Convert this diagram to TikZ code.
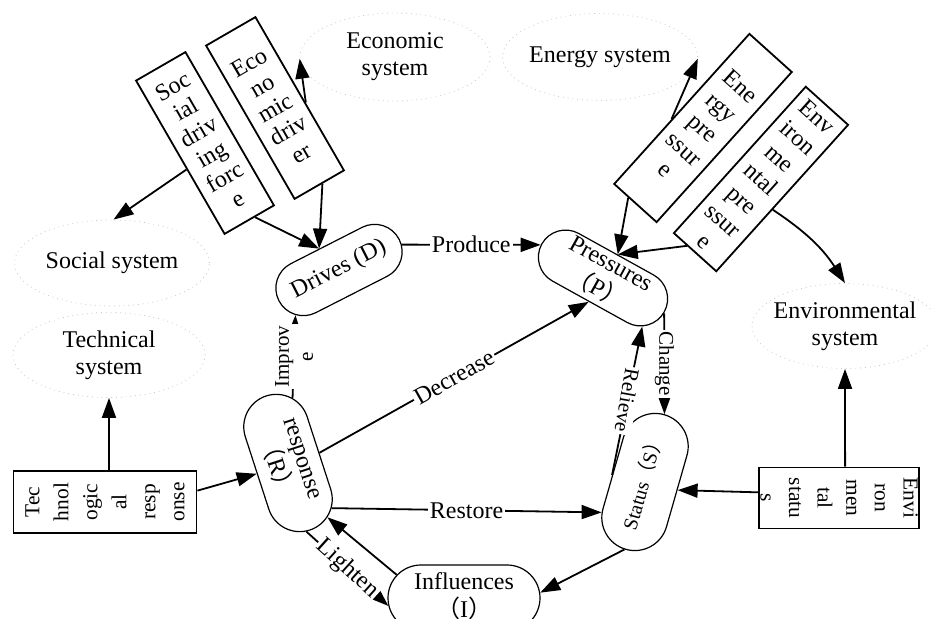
\documentclass[tikz,border=0pt]{standalone}
\usepackage{fontspec}
\setmainfont{Liberation Serif}
\newfontfamily\cjkfont{Noto Sans CJK SC}
\usetikzlibrary{shapes.geometric,shapes.misc,arrows.meta}
\newcommand{\fwp}[1]{{\cjkfont （}#1{\cjkfont ）}}
\newcommand{\pilltext}[1]{\makebox[0pt]{\begin{tabular}{@{}c@{}}#1\end{tabular}}}

\begin{document}
\begin{tikzpicture}[x=0.5pt, y=-0.5pt, font=\fontsize{12}{13.5}\selectfont,
    sysnode/.style = {ellipse, draw=black!22, dotted, line width=0.4pt, align=center, inner xsep=-4pt, inner ysep=0pt},
    boxnode/.style = {rectangle, draw, line width=0.9pt, align=center, inner sep=0pt, minimum width=28.5pt},
    pillnode/.style = {rounded rectangle, draw, line width=0.6pt, inner sep=0pt, font=\fontsize{12}{13}\selectfont},
    arr/.style = {line width=0.9pt, -{Triangle[length=10pt,width=7pt]}},
    lbl/.style = {fill=white, inner sep=1pt},
    small/.style = {font=\fontsize{10.5}{12}\selectfont}]
    \useasboundingbox (0,0) rectangle (931,619);

    \node[sysnode, minimum width=95pt, minimum height=44pt] (econsys) at (395,57) {Economic\\system};
    \node[sysnode, minimum width=97.5pt, minimum height=43.5pt] (enersys) at (600,57) {Energy system};
    \node[sysnode, minimum width=97.5pt, minimum height=43pt] (socsys) at (112,263) {Social system};
    \node[sysnode, minimum width=96pt, minimum height=42.5pt] (techsys) at (109,355) {Technical\\system};
    \node[sysnode, minimum width=93pt, minimum height=42.5pt] (envsys) at (845,326) {Environmental\\system};

    \node[boxnode, minimum height=88.5pt, rotate=30, font=\fontsize{12}{13}\selectfont] (socdrive) at (205,143) {Soc\\ial\\driv\\ing\\forc\\e};
    \node[boxnode, minimum height=88.5pt, rotate=30, font=\fontsize{12}{13}\selectfont] (ecodrive) at (275,108) {Eco\\no\\mic\\driv\\er};
    \node[boxnode, minimum height=101pt, rotate=-42, font=\fontsize{12}{14}\selectfont] (enerpress) at (703,128) {Ene\\rgy\\pre\\ssur\\e};
    \node[boxnode, minimum height=98.5pt, rotate=-42, font=\fontsize{12}{14}\selectfont] (envpress) at (761,179) {Env\\iron\\me\\ntal\\pre\\ssur\\e};
    \node[boxnode, minimum width=30.5pt, minimum height=80pt, rotate=-90, font=\fontsize{10.7}{14.3}\selectfont] (envstatus) at (839,498) {Envi\\ron\\men\\tal\\statu\\s};
    \node[boxnode, minimum width=31pt, minimum height=91.5pt, rotate=90, font=\fontsize{10.7}{14.5}\selectfont] (techresp) at (105,502) {Tec\\hnol\\ogic\\al\\resp\\onse};

    \node[pillnode, minimum width=67.5pt, minimum height=27.5pt, rotate=27] (drives) at (339,270) {\pilltext{Drives (D)}};
    \node[pillnode, minimum width=70pt, minimum height=25pt, rotate=-29] (press) at (603,278) {\pilltext{Pressures\\\fwp{P}}};
    \node[pillnode, minimum width=70.5pt, minimum height=32.5pt, rotate=-72] (resp) at (288,463) {\pilltext{response\\\fwp{R}}};
    \node[pillnode, minimum width=70pt, minimum height=33pt, rotate=74, font=\fontsize{10}{12}\selectfont] (status) at (645,482) {\pilltext{Status\fwp{S}}};
    \node[pillnode, minimum width=76pt, minimum height=33pt] (infl) at (464,598) {\pilltext{Influences\\\fwp{I}}};

    \draw[arr] (socdrive.205) -- (socsys.88);
    \draw[arr] (ecodrive.-20) -- (econsys.181);
    \draw[arr] (ecodrive.-88) -- (drives.106);
    \draw[arr] (socdrive.-86) -- (drives.106);
    \draw[arr] (drives.-5) -- node[lbl] {Produce} (press.181);
    \draw[arr] (enerpress.206) -- (enersys.-1);
    \draw[arr] (enerpress.265) -- (press.87);
    \draw[arr] (envpress.264) -- (press.87);
    \draw[arr] (envpress.-27) to[bend left=12] (envsys.north);
    \draw[arr] (press.-1) -- node[lbl, small, rotate=-90] {Change} (status.0);
    \draw[arr] (status.94) -- node[lbl, small, rotate=-100] {Relieve} (press.-22);
    \draw[arr] (resp.158) -- node[lbl, small, rotate=90, align=center] {Improv\\e} (drives.199);
    \draw[arr] (resp.90) -- node[lbl, sloped] {Decrease} (press.268);
    \draw[arr] (resp.26) -- node[lbl] {Restore} (status.141);
    \draw[arr] (techresp.-7) -- (techsys.south);
    \draw[arr] (techresp.-83) -- (resp.271);
    \draw[arr] (envstatus.169) -- (envsys.south);
    \draw[arr] (envstatus.266) -- (status.-88);
    \draw[arr] (status.179) -- (infl.4);
    \draw[arr] (infl.161) -- (resp.18);
    \draw[arr] (resp.-3) -- node[lbl, sloped] {Lighten} (infl.186);
\end{tikzpicture}
\end{document}
